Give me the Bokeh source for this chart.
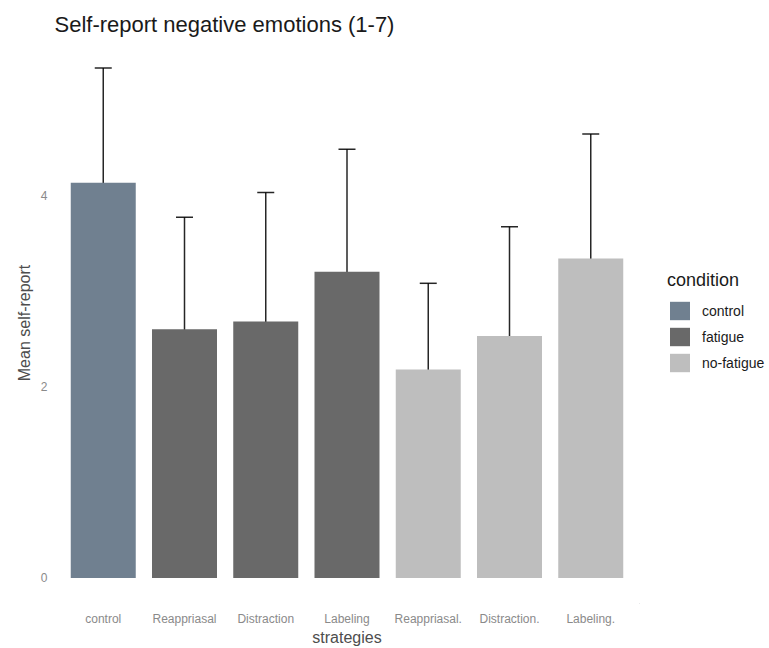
from bokeh.plotting import figure
from bokeh.layouts import row
from bokeh.models import (ColumnDataSource, FactorRange, Range1d, Whisker, TeeHead,
                          Legend, LegendItem, FixedTicker)
from bokeh.embed import file_html
from bokeh.resources import INLINE

# Mean self-reported negative emotion per strategy, with error bar limits
strategies = ["control", "Reappriasal", "Distraction", "Labeling",
              "Reappriasal.", "Distraction.", "Labeling."]
condition = ["control", "fatigue", "fatigue", "fatigue",
             "no-fatigue", "no-fatigue", "no-fatigue"]
means = [4.13, 2.60, 2.68, 3.20, 2.18, 2.53, 3.34]
upper = [5.33, 3.77, 4.03, 4.48, 3.08, 3.67, 4.64]
lower = [2.96, 1.42, 1.34, 1.90, 1.28, 1.39, 2.05]

conditions = ["control", "fatigue", "no-fatigue"]
palette = {"control": "#708090", "fatigue": "#696969", "no-fatigue": "#bebebe"}

FONT = "Liberation Sans"

src = ColumnDataSource(dict(
    strategy=strategies, condition=condition, mean=means,
    upper=upper, lower=lower,
))

p = figure(
    width=639, height=648,
    x_range=FactorRange(*strategies, range_padding=0.1, range_padding_units="absolute"),
    y_range=Range1d(-0.267, 5.597),
    output_backend="svg", toolbar_location=None,
    min_border_left=54, min_border_right=0, min_border_top=42, min_border_bottom=44,
    background_fill_color="white", border_fill_color="white",
)
p.outline_line_color = None
p.grid.visible = False

p.title.text = "Self-report negative emotions (1-7)"
p.title.text_font = FONT
p.title.text_font_size = "22px"
p.title.text_font_style = "normal"
p.title.text_color = "#1a1a1a"
p.title.standoff = 11

# bars, one renderer per condition
for cond in conditions:
    idx = [i for i, c in enumerate(condition) if c == cond]
    s = ColumnDataSource(dict(strategy=[strategies[i] for i in idx],
                              mean=[means[i] for i in idx]))
    p.vbar(x="strategy", top="mean", width=0.8, bottom=0, source=s,
           fill_color=palette[cond], line_color=None)

# error bars
head_kw = dict(size=17, line_color="black", line_width=1.5, line_alpha=0.85)
whisk = Whisker(base="strategy", upper="upper", lower="lower", source=src,
                line_color="black", line_width=1.5, line_alpha=0.85,
                upper_head=TeeHead(**head_kw), lower_head=TeeHead(**head_kw))
p.add_layout(whisk)

# axes
p.yaxis.ticker = FixedTicker(ticks=[0, 2, 4])
for ax in (p.xaxis[0], p.yaxis[0]):
    ax.axis_line_color = None
    ax.major_tick_line_color = None
    ax.minor_tick_line_color = None
    ax.major_tick_out = 0
    ax.major_tick_in = 0
    ax.minor_tick_out = 0
    ax.minor_tick_in = 0
    ax.major_label_text_font = FONT
    ax.major_label_text_font_size = "12px"
    ax.major_label_text_color = "#8a8a8a"
    ax.axis_label_text_font = FONT
    ax.axis_label_text_font_size = "16px"
    ax.axis_label_text_font_style = "normal"
    ax.axis_label_text_color = "#4d4d4d"

p.xaxis.axis_label = "strategies"
p.xaxis.major_label_standoff = 8
p.xaxis.axis_label_standoff = 0
p.yaxis.axis_label = "Mean self-report"
p.yaxis.major_label_standoff = 7
p.yaxis.axis_label_standoff = 5

# legend panel to the right of the chart
leg = figure(
    width=130, height=648, x_range=Range1d(0, 1), y_range=Range1d(0, 1),
    x_axis_type=None, y_axis_type=None,
    output_backend="svg", toolbar_location=None,
    min_border_left=0, min_border_right=0, min_border_top=0, min_border_bottom=0,
    background_fill_color="white", border_fill_color="white",
)
leg.outline_line_color = None
leg.grid.visible = False

# zero-size swatch renderers; only their legend keys are drawn
swatches = {}
for cond in conditions:
    swatches[cond] = leg.vbar(x=[-10], top=[-10], bottom=[-10], width=0,
                              fill_color=palette[cond], line_color=None)

legend = Legend(
    items=[LegendItem(label=c, renderers=[swatches[c]]) for c in conditions],
    location=(28, 229), title="condition",
    title_text_font=FONT, title_text_font_size="18px", title_text_color="#1a1a1a",
    title_text_font_style="normal", title_standoff=8,
    label_text_font=FONT, label_text_font_size="14px", label_text_color="#1a1a1a",
    glyph_width=25, glyph_height=23, label_height=23, spacing=3,
    label_standoff=10, padding=0, margin=0,
    border_line_color=None, background_fill_alpha=0,
)
leg.add_layout(legend, "center")

layout = row(p, leg, spacing=0)
open("out.html", "w").write(file_html(layout, INLINE))
